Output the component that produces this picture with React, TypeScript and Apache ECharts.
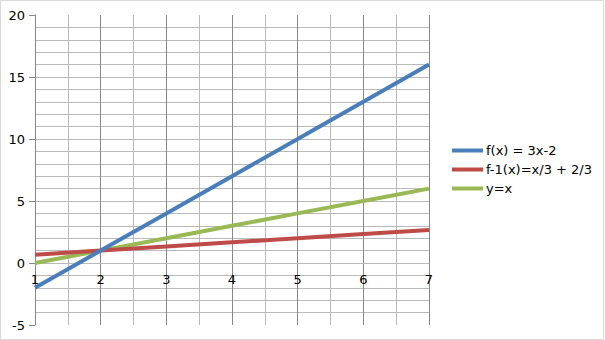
import React, { useEffect, useRef } from "react";
import * as echarts from "echarts";

const xCategories = [1, 2, 3, 4, 5, 6, 7];
const seriesNames = ["f(x) = 3x-2", "f-1(x)=x/3 + 2/3", "y=x"];
const fValues = [-2, 1, 4, 7, 10, 13, 16];
const fInvValues = [0.667, 1, 1.333, 1.667, 2, 2.333, 2.667];
const idValues = [0, 1, 2, 3, 4, 5, 6];
const colors = ["#4A7EBB", "#BE4B48", "#98B954"];

const FONT = "DejaVu Sans";
const LIGHT = "#b9b9b9";
const DARK = "#878787";

const Y_MIN = -5;
const Y_MAX = 20;
const GRID_TOP = 15;
const GRID_H = 310;
// distance (px) from the bottom of the plot to the y = 0 line
const zeroOffset = (GRID_H * (0 - Y_MIN)) / (Y_MAX - Y_MIN);

export default function App() {
  const ref = useRef<HTMLDivElement>(null);
  useEffect(() => {
    if (!ref.current) return;
    const chart = echarts.init(ref.current, undefined, { renderer: "svg" });
    const toPairs = (vals: number[]) => vals.map((v, i) => [xCategories[i], v]);
    const allValues = [fValues, fInvValues, idValues];
    chart.setOption({
      animation: false,
      backgroundColor: "#ffffff",
      textStyle: { fontFamily: FONT },
      graphic: [
        {
          type: "rect",
          shape: { x: 0.5, y: 0.5, width: 603, height: 339 },
          style: { fill: "none", stroke: "#d9d9d9", lineWidth: 1 },
          silent: true,
          z: 100,
        },
      ],
      grid: { left: 35, top: GRID_TOP, width: 394, height: GRID_H, containLabel: false, outerBoundsMode: "none" },
      xAxis: {
        type: "value",
        min: 1,
        max: 7,
        interval: 1,
        offset: -zeroOffset,
        axisLine: { show: true, onZero: false, lineStyle: { color: LIGHT, width: 1 } },
        axisTick: { show: false },
        axisLabel: { color: "#000", fontSize: 13, fontFamily: FONT, margin: 10 },
        splitLine: { show: true, lineStyle: { color: DARK, width: 1 } },
        minorTick: { show: false, splitNumber: 2 },
        minorSplitLine: { show: true, lineStyle: { color: LIGHT, width: 1 } },
      },
      yAxis: {
        type: "value",
        min: Y_MIN,
        max: Y_MAX,
        interval: 5,
        axisLine: { show: true, onZero: false, lineStyle: { color: DARK, width: 1 } },
        axisTick: { show: true, length: 6, lineStyle: { color: DARK } },
        axisLabel: { color: "#000", fontSize: 13, fontFamily: FONT, margin: 10 },
        splitLine: { show: true, showMinLine: false, showMaxLine: false, lineStyle: { color: LIGHT, width: 1 } },
        minorTick: { show: false, splitNumber: 5 },
        minorSplitLine: { show: true, lineStyle: { color: LIGHT, width: 1 } },
      },
      legend: {
        orient: "vertical",
        left: 452,
        top: 143,
        padding: 0,
        itemWidth: 31,
        itemHeight: 4,
        itemGap: 4,
        icon: "rect",
        textStyle: { fontSize: 13, fontFamily: FONT, color: "#000", lineHeight: 15, padding: [0, 0, 0, -2] },
        data: seriesNames,
      },
      series: seriesNames.map((name, i) => ({
        name,
        type: "line",
        data: toPairs(allValues[i]),
        showSymbol: false,
        symbol: "none",
        lineStyle: { color: colors[i], width: 4 },
        itemStyle: { color: colors[i] },
        z: 3 - i,
      })),
    });
    return () => chart.dispose();
  }, []);
  return <div ref={ref} style={{ width: 605, height: 340, position: "absolute", left: 0, top: 0 }} />;
}
